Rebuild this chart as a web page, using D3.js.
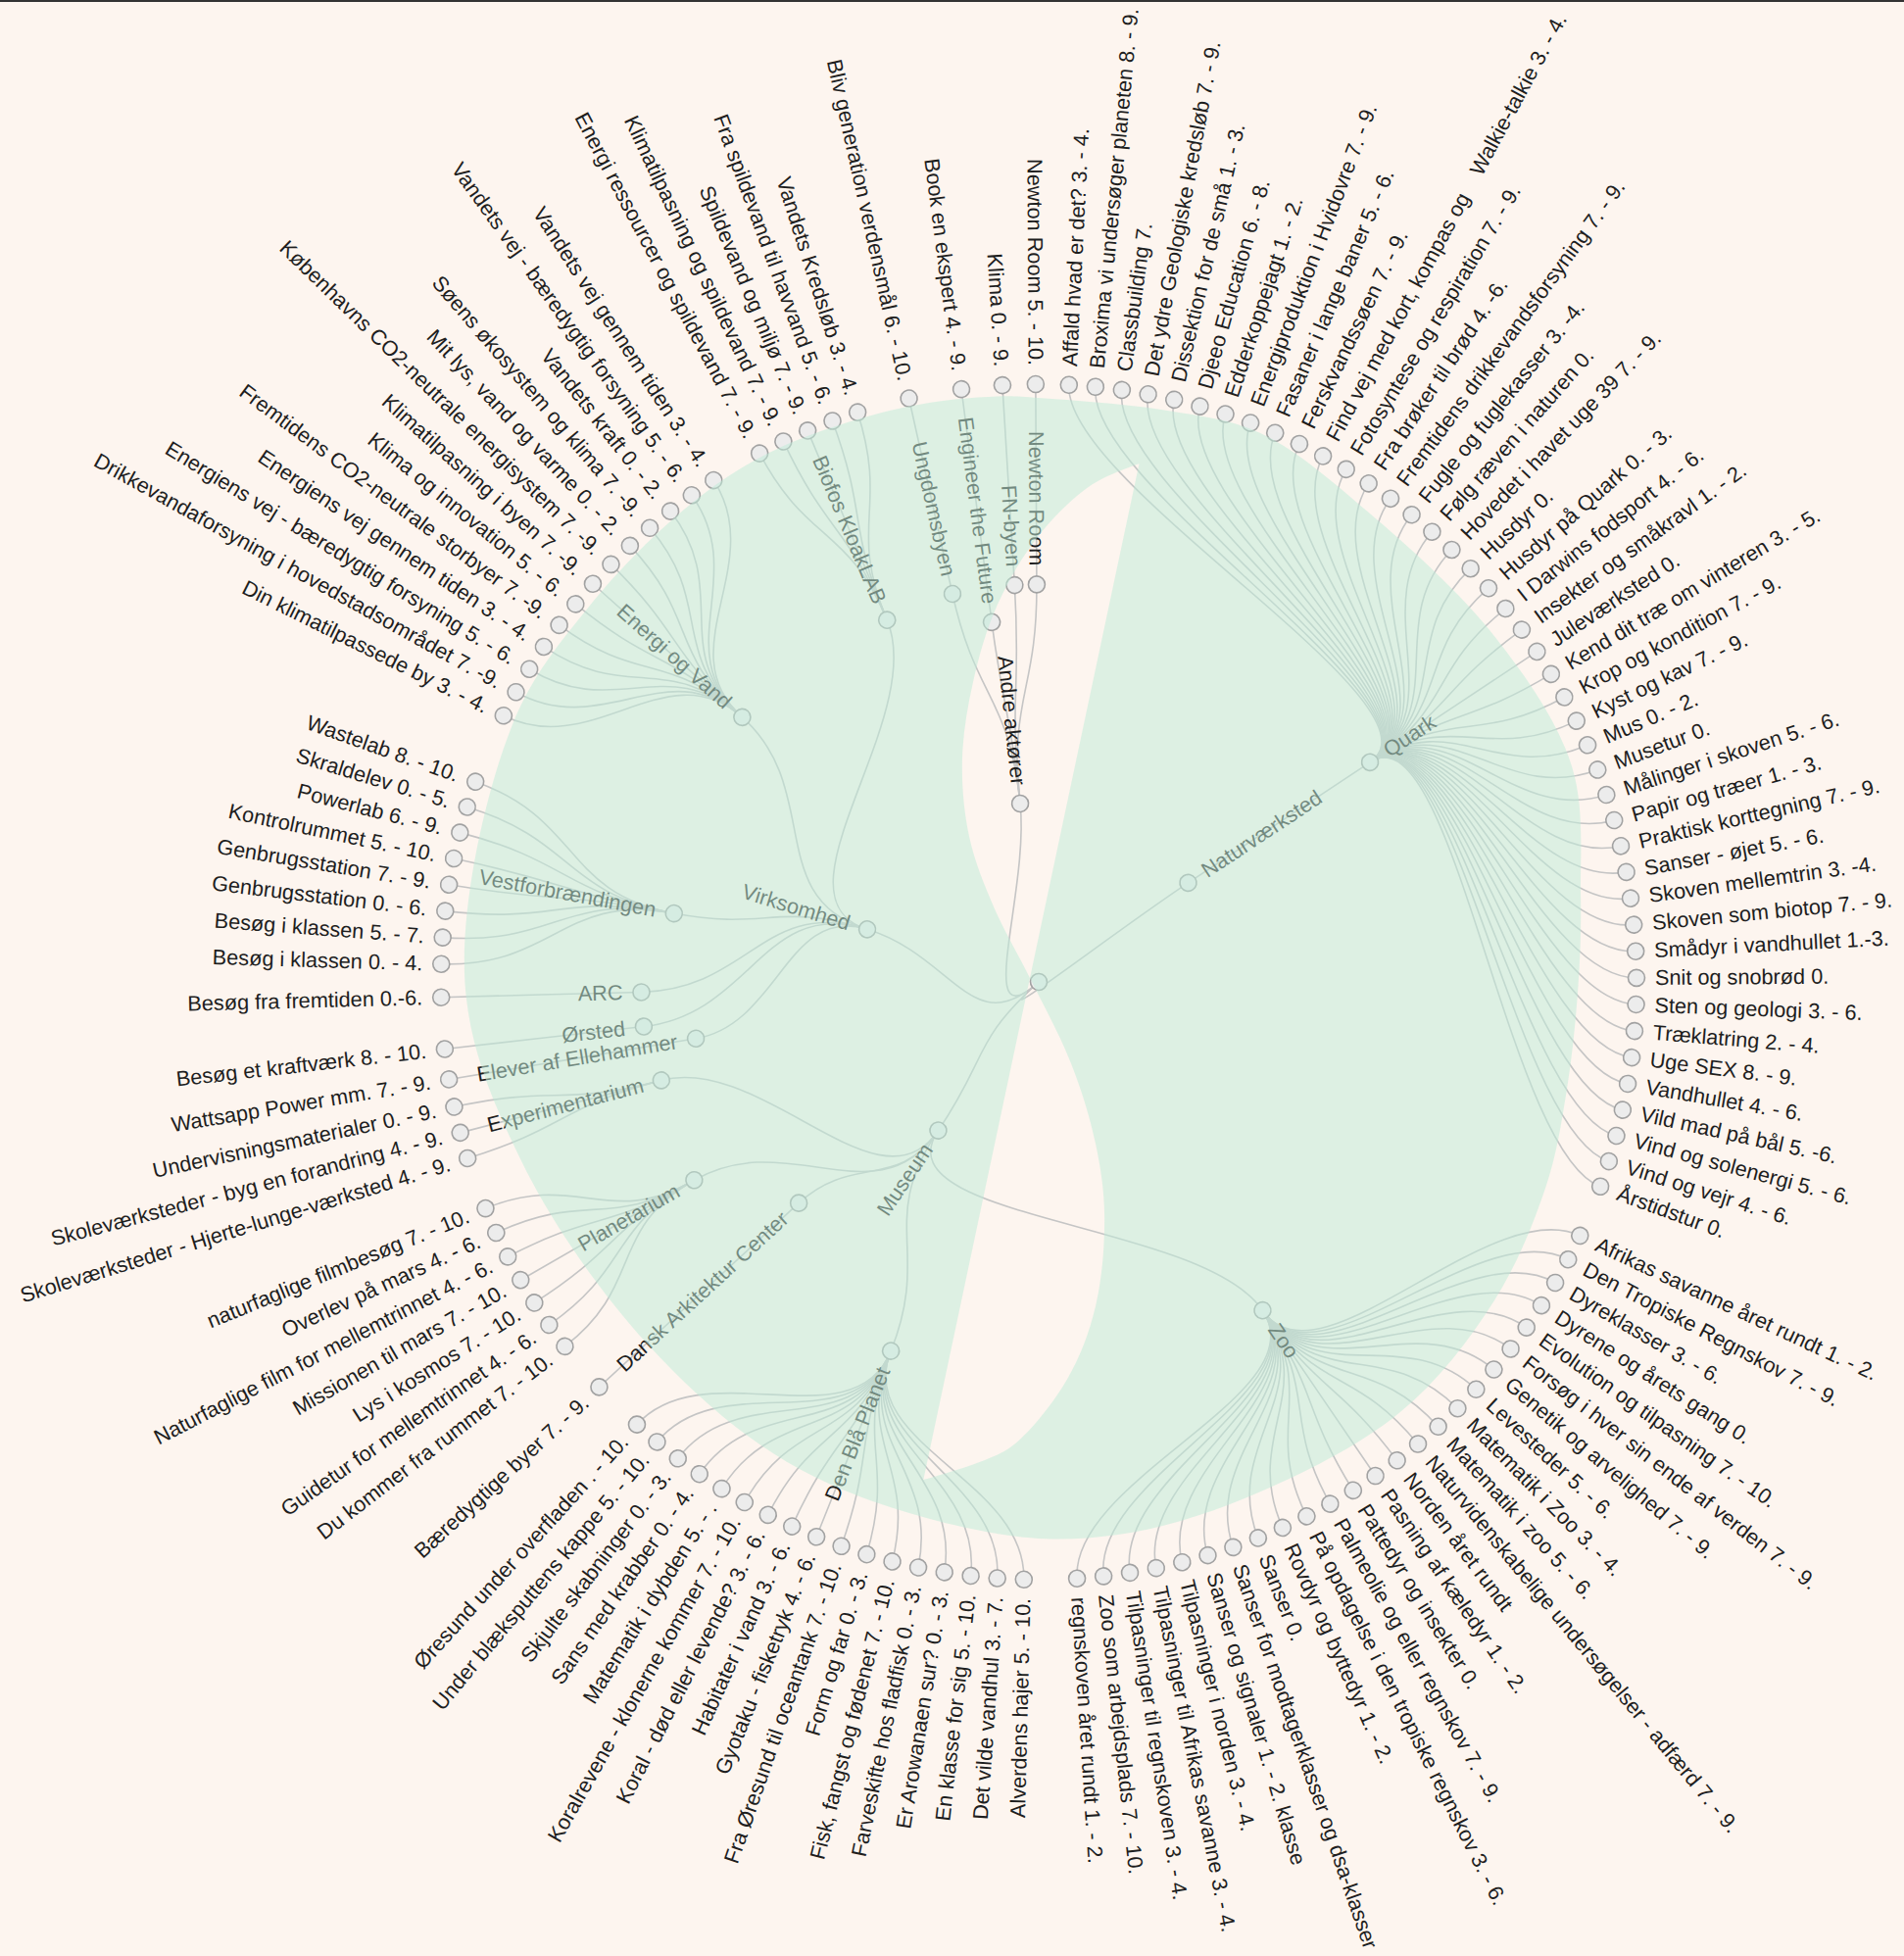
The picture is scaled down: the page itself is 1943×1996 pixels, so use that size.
<!DOCTYPE html>
<html>
<head>
<meta charset="utf-8">
<script src="https://cdn.jsdelivr.net/npm/d3@7"></script>
<style>
  html, body { margin: 0; padding: 0; background: #fdf5ef; }
  svg { display: block; }
  text { font-family: "Liberation Sans", Arial, sans-serif; }
</style>
</head>
<body>
<svg width="1943" height="1996"></svg>
<script>

// ---- data: top level categories, places and their activities ----
const categories = ["Naturværksted", "Museum", "Virksomhed", "Andre aktører"];

const places = [
  ["Naturværksted", "Quark"],
  ["Museum", "Zoo"],
  ["Museum", "Den Blå Planet"],
  ["Museum", "Dansk Arkitektur Center"],
  ["Museum", "Planetarium"],
  ["Museum", "Experimentarium"],
  ["Virksomhed", "Elever af Ellehammer"],
  ["Virksomhed", "Ørsted"],
  ["Virksomhed", "ARC"],
  ["Virksomhed", "Vestforbrændingen"],
  ["Virksomhed", "Energi og Vand"],
  ["Virksomhed", "Biofos KloakLAB"],
  ["Andre aktører", "Ungdomsbyen"],
  ["Andre aktører", "Engineer the Future"],
  ["Andre aktører", "FN-byen"],
  ["Andre aktører", "Newton Room"]
];

const quark = [
  "Affald hvad er det? 3. - 4.", "Broxima vi undersøger planeten 8. - 9.", "Classbuilding 7.",
  "Det ydre Geologiske kredsløb 7. - 9.", "Dissektion for de små 1. - 3.", "Djeeo Education 6. - 8.",
  "Edderkoppejagt 1. - 2.", "Energiproduktion i Hvidovre 7. - 9.", "Fasaner i lange baner 5. - 6.",
  "Ferskvandssøen 7. - 9.", "Find vej med kort, kompas og\u00a0\u00a0\u00a0\u00a0Walkie-talkie 3. - 4.",
  "Fotosyntese og respiration 7. - 9.", "Fra brøker til brød 4. -6.", "Fremtidens drikkevandsforsyning 7. - 9.",
  "Fugle og fuglekasser 3. -4.", "Følg ræven i naturen 0.", "Hovedet i havet uge 39 7. - 9.",
  "Husdyr 0.", "Husdyr på Quark 0. - 3.", "I Darwins fodsport 4. - 6.", "Insekter og småkravl 1. - 2.",
  "Juleværksted 0.", "Kend dit træ om vinteren 3. - 5.", "Krop og kondition 7. - 9.", "Kyst og kav 7. - 9.",
  "Mus 0. - 2.", "Musetur 0.", "Målinger i skoven 5. - 6.", "Papir og træer 1. - 3.",
  "Praktisk korttegning 7. - 9.", "Sanser - øjet 5. - 6.", "Skoven mellemtrin 3. -4.",
  "Skoven som biotop 7. - 9.", "Smådyr i vandhullet 1.-3.", "Snit og snobrød 0.", "Sten og geologi 3. - 6.",
  "Træklatring 2. - 4.", "Uge SEX 8. - 9.", "Vandhullet 4. - 6.", "Vild mad på bål 5. -6.",
  "Vind og solenergi 5. - 6.", "Vind og vejr 4. - 6.", "Årstidstur 0."
];

const zoo = [
  "Afrikas savanne året rundt 1. - 2.", "Den Tropiske Regnskov 7. - 9.", "Dyreklasser 3. - 6.",
  "Dyrene og årets gang 0.", "Evolution og tilpasning 7. - 10.", "Forsøg i hver sin ende af verden 7. - 9.",
  "Genetik og arvelighed 7. - 9.", "Levesteder 5. - 6.", "Matematik i Zoo 3. - 4.", "Matematik i zoo 5. - 6.",
  "Naturvidenskabelige undersøgelser - adfærd 7. - 9.", "Norden året rundt", "Pasning af kæledyr 1. - 2.",
  "Pattedyr og insekter 0.", "Palmeolie og eller regnskov 7. - 9.", "På opdagelse i den tropiske regnskov 3. - 6.",
  "Rovdyr og byttedyr 1. - 2.", "Sanser 0.", "Sanser for modtagerklasser og dsa-klasser",
  "Sanser og signaler 1. - 2. klasse", "Tilpasninger i norden 3. - 4.", "Tilpasninger til Afrikas savanne 3. - 4.",
  "Tilpasninger til regnskoven 3. - 4.", "Zoo som arbejdsplads 7. - 10.", "regnskoven året rundt 1. - 2."
];

const blaaPlanet = [
  "Alverdens hajer 5. - 10.", "Det vilde vandhul 3. - 7.", "En klasse for sig 5. - 10.",
  "Er Arowanaen sur? 0. - 3.", "Farveskifte hos fladfisk 0. - 3.", "Fisk, fangst og fødenet 7. - 10.",
  "Form og far 0. - 3.", "Fra Øresund til oceantank 7. - 10.", "Gyotaku - fisketryk 4. - 6.",
  "Habitater i vand 3. - 6.", "Koral - død eller levende? 3. - 6.", "Koralrevene - klonerne kommer 7. - 10.",
  "Matematik i dybden 5. - .", "Sans med krabber 0. - 4.", "Skjulte skabninger 0. - 3.",
  "Under blæksputtens kappe 5. - 10.", "Øresund under overfladen . - 10."
];

const arkitektur = ["Bæredygtige byer 7. - 9."];

const planetarium = [
  "Du kommer fra rummet 7. - 10.", "Guidetur for mellemtrinnet 4. - 6.", "Lys i kosmos 7. - 10.",
  "Missionen til mars 7. - 10.", "Naturfaglige film for mellemtrinnet 4. - 6.", "Overlev på mars 4. - 6.",
  "naturfaglige filmbesøg 7. - 10."
];

const experimentarium = [
  "Skoleværksteder - Hjerte-lunge-værksted 4. - 9.", "Skoleværksteder - byg en forandring 4. - 9.",
  "Undervisningsmaterialer 0. - 9."
];

const ellehammer = ["Wattsapp Power mm. 7. - 9."];
const orsted = ["Besøg et kraftværk 8. - 10."];
const arc = ["Besøg fra fremtiden 0.-6."];

const vestforbraendingen = [
  "Besøg i klassen 0. - 4.", "Besøg i klassen 5. - 7.", "Genbrugsstation 0. - 6.", "Genbrugsstation 7. - 9.",
  "Kontrolrummet 5. - 10.", "Powerlab 6. - 9.", "Skraldelev 0. - 5.", "Wastelab 8. - 10."
];

const energiVand = [
  "Din klimatilpassede by 3. - 4.", "Drikkevandaforsyning i hovedstadsområdet 7. -9.",
  "Energiens vej - bæredygtig forsyning 5. - 6.", "Energiens vej gennem tiden 3. - 4.",
  "Fremtidens CO2-neutrale storbyer 7. -9.", "Klima og innovation 5. - 6.", "Klimatilpasning i byen 7. -9.",
  "Københavns CO2-neutrale energisystem 7. -9.", "Mit lys, vand og varme 0. - 2.",
  "Søens økosystem og klima 7. -9.", "Vandets kraft 0. - 2.", "Vandets vej - bæredygtig forsyning 5. - 6.",
  "Vandets vej gennem tiden 3. - 4."
];

const biofos = [
  "Energi ressourcer og spildevand 7. - 9.", "Klimatilpasning og spildevand 7. - 9.",
  "Spildevand og miljø 7. - 9.", "Fra spildevand til havvand 5. - 6.", "Vandets Kredsløb 3. - 4."
];

const ungdomsbyen = ["Bliv generation verdensmål 6. - 10."];
const engineer = ["Book en ekspert 4. - 9."];
const fnByen = ["Klima 0. - 9."];
const newtonRoom = ["Newton Room 5. - 10."];

const activities = [quark, zoo, blaaPlanet, arkitektur, planetarium, experimentarium, ellehammer,
  orsted, arc, vestforbraendingen, energiVand, biofos, ungdomsbyen, engineer, fnByen, newtonRoom];

// layout tuning: gap in front of each place, in leaf steps (same order as places)
const placeGap = [1.25, 2, 2, 2, 2, 2, 1.05, 1.15, 1.95, 1.25, 2.7, 2, 2, 2, 1.55, 1.25];

// outline of the pale green veil (angle in degrees, share of the radius)
const veilRim = [[0,0.977],[13,0.98],[22,0.99],[35,0.96],[53,0.957],[68,0.962],[81,0.918],[91,0.902],
  [102,0.902],[112,0.915],[125,0.93],[140,0.94],[158,0.93],[172,0.934],[184,0.926],[206,0.908],
  [227,0.892],[251,0.916],[270,0.96],[296,0.98],[310,0.98],[324,0.989],[334,0.993],[347,0.987],[356,0.982]];
// the s-shaped gap in the veil (x, y as share of the radius)
const veilGap = [[0.168,-0.867],[0.089,-0.832],[0.001,-0.748],[-0.069,-0.631],[-0.110,-0.501],
  [-0.128,-0.371],[-0.116,-0.242],[-0.075,-0.125],[-0.016,-0.009],[0.054,0.136],[0.095,0.270],
  [0.110,0.391],[0.095,0.543],[0.048,0.664],[-0.040,0.773],[-0.098,0.803],[-0.193,0.833]];

// ---- build the hierarchy ----
const tree = {
  name: "",
  children: categories.map(c => ({
    name: c,
    children: places.map((p, i) => ({ p, i })).filter(o => o.p[0] === c).map(o => ({
      name: o.p[1],
      gap: placeGap[o.i],
      children: activities[o.i].map(a => ({ name: a }))
    }))
  }))
};

const width = 1943, height = 1996;
const cx = 1060, cy = 1002, R = 610;
const fontSize = 21.7;
const turn = 1.3 * Math.PI / 180;

const root = d3.hierarchy(tree);
d3.cluster()
  .size([2 * Math.PI, R])
  .separation((a, b) => a.parent === b.parent ? 1 : a.parent.data.gap)(root);

const svg = d3.select("svg");

// measure place names so that long names stay clear of the outer ring
const probe = svg.append("text").style("font-size", fontSize + "px");
const nameWidth = new Map();
root.descendants().filter(d => d.depth === 2).forEach(d => {
  probe.text(d.data.name);
  nameWidth.set(d, probe.node().getComputedTextLength());
});
probe.remove();

const radius = d3.scaleLinear().domain([0, 1, 2, 3]).range([0, 0.3 * R, 0.665 * R, R]);
const ang = d => (d.x + turn) % (2 * Math.PI);
const rad = d => d.depth === 2 ? Math.min(radius(2), R - nameWidth.get(d) - 48) : radius(d.depth);
const deg = a => a * 180 / Math.PI;

svg.append("rect")
    .attr("x", 0).attr("y", 0)
    .attr("width", width).attr("height", 2)
    .attr("fill", "#333");

const g = svg.append("g").attr("transform", `translate(${cx},${cy})`);

// links
g.append("g")
    .attr("fill", "none")
    .attr("stroke", "#c5c5c5")
    .attr("stroke-width", 1.6)
  .selectAll("path")
  .data(root.links())
  .join("path")
    .attr("d", d3.linkRadial().angle(ang).radius(rad));

// nodes
g.append("g")
  .selectAll("circle")
  .data(root.descendants())
  .join("circle")
    .attr("transform", d => `rotate(${deg(ang(d)) - 90}) translate(${rad(d)},0)`)
    .attr("r", 8.5)
    .attr("fill", "#ececec")
    .attr("stroke", "#a2a2a2")
    .attr("stroke-width", 1.6);

// labels
g.append("g")
    .style("font-size", fontSize + "px")
    .attr("fill", "#1e1e1e")
  .selectAll("text")
  .data(root.descendants().filter(d => d.depth > 0))
  .join("text")
    .attr("transform", d => `rotate(${deg(ang(d)) - 90}) translate(${rad(d)},0) rotate(${ang(d) < Math.PI ? 0 : 180})`)
    .attr("x", d => ang(d) < Math.PI ? 19 : -19)
    .attr("dy", "0.33em")
    .attr("text-anchor", d => ang(d) < Math.PI ? "start" : "end")
    .text(d => d.data.name);

// the veil drawn on top of everything
const rimPath = d3.lineRadial()
    .angle(d => d[0] * Math.PI / 180)
    .radius(d => d[1] * R)
    .curve(d3.curveCatmullRomClosed)(veilRim);
const gapPath = d3.line()
    .x(d => d[0] * R)
    .y(d => d[1] * R)
    .curve(d3.curveCatmullRom)(veilGap) + "Z";

g.append("path")
    .attr("d", rimPath + gapPath)
    .attr("fill", "rgb(192,236,216)")
    .attr("fill-opacity", 0.52)
    .attr("fill-rule", "evenodd");

</script>
</body>
</html>
